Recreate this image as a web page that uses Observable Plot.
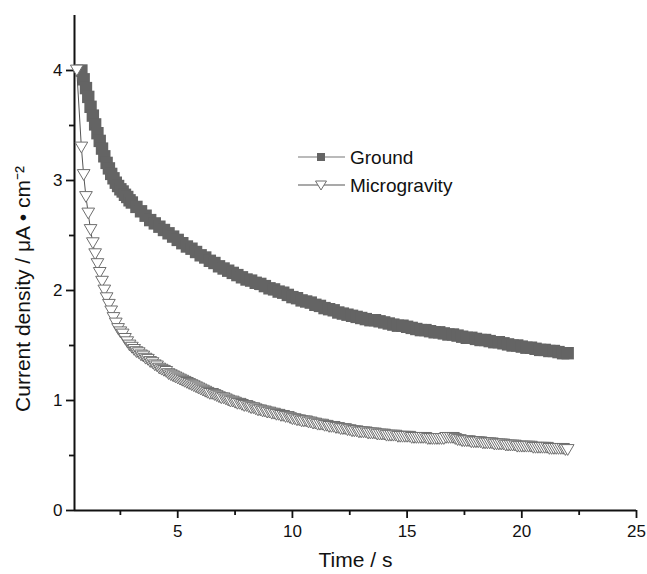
<!DOCTYPE html>
<html><head><meta charset="utf-8">
<script src="https://cdn.jsdelivr.net/npm/d3@7"></script>
<script src="https://cdn.jsdelivr.net/npm/@observablehq/plot@0.6"></script>
<style>
html,body{margin:0;padding:0;background:#fff;}
#wrap{position:relative;width:647px;height:574px;font-family:"Liberation Sans",Arial,sans-serif;}
#wrap svg.legend{position:absolute;left:0;top:0;pointer-events:none;}
</style></head><body><div id="wrap"></div>
<script>
// ---- data ----
const groundTime = [0.8,0.9,1.0,1.1,1.2,1.3,1.4,1.5,1.6,1.7,
  1.8,1.9,2.0,2.1,2.2,2.3,2.4,2.5,2.6,2.7,
  2.8,2.9,3.0,
  3.2,3.4,3.6,3.8,4.0,4.2,4.4,4.6,4.8,5.0,
  5.2,5.4,5.6,5.8,6.0,6.2,6.4,6.6,6.8,7.0,
  7.2,7.4,7.6,7.8,8.0,8.2,8.4,8.6,8.8,9.0,
  9.2,9.4,9.6,9.8,10.0,10.2,10.4,10.6,10.8,11.0,
  11.2,11.4,11.6,11.8,12.0,12.2,12.4,12.6,12.8,13.0,
  13.2,13.4,13.6,13.8,14.0,14.2,14.4,14.6,14.8,15.0,
  15.2,15.4,15.6,15.8,16.0,16.2,16.4,16.6,16.8,17.0,
  17.2,17.4,17.6,17.8,18.0,18.2,18.4,18.6,18.8,19.0,
  19.2,19.4,19.6,19.8,20.0,20.2,20.4,20.6,20.8,21.0,
  21.2,21.4,21.6,21.8,22.0];
const groundCurrent = [4.00,3.92,3.84,3.76,3.67,3.59,3.51,3.43,3.36,3.29,
  3.22,3.16,3.11,3.06,3.02,2.98,2.95,2.92,2.90,2.87,
  2.85,2.82,2.80,
  2.76,2.72,2.68,2.64,2.61,2.58,2.55,2.52,2.49,2.46,
  2.43,2.40,2.38,2.35,2.32,2.30,2.27,2.25,2.22,2.20,
  2.18,2.16,2.14,2.12,2.10,2.09,2.07,2.06,2.04,2.02,
  2.01,1.99,1.98,1.96,1.94,1.93,1.91,1.90,1.89,1.87,
  1.86,1.84,1.83,1.82,1.80,1.79,1.78,1.77,1.76,1.75,
  1.74,1.73,1.73,1.72,1.71,1.70,1.69,1.68,1.68,1.67,
  1.66,1.65,1.64,1.64,1.63,1.62,1.62,1.61,1.60,1.60,
  1.59,1.58,1.57,1.57,1.56,1.55,1.55,1.54,1.53,1.53,
  1.52,1.51,1.50,1.50,1.49,1.48,1.48,1.47,1.46,1.46,
  1.45,1.45,1.44,1.43,1.43];
const microTime = [0.6,
  0.8,0.9,1.0,1.1,1.2,1.3,1.4,1.5,1.6,1.7,
  1.8,1.9,2.0,2.1,2.2,2.3,2.4,2.5,2.6,2.7,
  2.8,2.9,3.0,3.1,3.2,3.3,3.4,3.5,3.6,3.7,
  3.8,3.9,4.0,4.1,4.2,4.3,4.4,4.5,4.6,4.7,
  4.8,4.9,5.0,5.1,5.2,5.3,5.4,5.5,5.6,5.7,
  5.8,5.9,6.0,6.1,6.2,6.3,6.4,6.5,6.6,6.7,
  6.8,6.9,7.0,7.1,7.2,7.3,7.4,7.5,7.6,7.7,
  7.8,7.9,8.0,8.1,8.2,8.3,8.4,8.5,8.6,8.7,
  8.8,8.9,9.0,9.1,9.2,9.3,9.4,9.5,9.6,9.7,
  9.8,9.9,10.0,10.1,10.2,10.3,10.4,10.5,10.6,10.7,
  10.8,10.9,11.0,11.1,11.2,11.3,11.4,11.5,11.6,11.7,
  11.8,11.9,12.0,12.1,12.2,12.3,12.4,12.5,12.6,12.7,
  12.8,12.9,13.0,13.1,13.2,13.3,13.4,13.5,13.6,13.7,
  13.8,13.9,14.0,14.1,14.2,14.3,14.4,14.5,14.6,14.7,
  14.8,14.9,15.0,15.1,15.2,15.3,15.4,15.5,15.6,15.7,
  15.8,15.9,16.0,16.1,16.2,16.3,16.4,16.5,16.6,16.7,
  16.8,16.9,17.0,17.1,17.2,17.3,17.4,17.5,17.6,17.7,
  17.8,17.9,18.0,18.1,18.2,18.3,18.4,18.5,18.6,18.7,
  18.8,18.9,19.0,19.1,19.2,19.3,19.4,19.5,19.6,19.7,
  19.8,19.9,20.0,20.1,20.2,20.3,20.4,20.5,20.6,20.7,
  20.8,20.9,21.0,21.1,21.2,21.3,21.4,21.5,21.6,21.7,
  21.8,21.9,22.0];
const microCurrent = [4.00,
  3.30,3.05,2.85,2.70,2.55,2.43,2.33,2.24,2.16,2.08,
  2.00,1.93,1.87,1.81,1.75,1.70,1.65,1.62,1.60,1.56,
  1.53,1.50,1.48,1.46,1.44,1.43,1.41,1.40,1.38,1.37,
  1.35,1.34,1.32,1.31,1.29,1.28,1.27,1.26,1.24,1.23,
  1.22,1.21,1.20,1.19,1.18,1.17,1.16,1.15,1.14,1.13,
  1.12,1.11,1.10,1.09,1.08,1.07,1.06,1.06,1.05,1.04,
  1.03,1.02,1.02,1.01,1.00,0.99,0.99,0.98,0.97,0.97,
  0.96,0.95,0.95,0.94,0.93,0.93,0.92,0.91,0.91,0.90,
  0.90,0.89,0.89,0.88,0.88,0.87,0.87,0.86,0.86,0.85,
  0.85,0.84,0.83,0.83,0.82,0.82,0.81,0.81,0.81,0.80,
  0.80,0.79,0.79,0.78,0.78,0.78,0.77,0.77,0.76,0.76,
  0.76,0.75,0.75,0.74,0.74,0.74,0.73,0.73,0.72,0.72,
  0.72,0.71,0.71,0.71,0.71,0.70,0.70,0.70,0.70,0.69,
  0.69,0.69,0.69,0.68,0.68,0.68,0.68,0.68,0.67,0.67,
  0.67,0.67,0.67,0.67,0.66,0.66,0.66,0.66,0.66,0.66,
  0.66,0.65,0.65,0.65,0.65,0.65,0.65,0.65,0.65,0.66,
  0.66,0.66,0.66,0.65,0.64,0.64,0.63,0.63,0.63,0.63,
  0.62,0.62,0.62,0.62,0.62,0.61,0.61,0.61,0.61,0.61,
  0.60,0.60,0.60,0.60,0.60,0.59,0.59,0.59,0.59,0.59,
  0.58,0.58,0.58,0.58,0.58,0.58,0.58,0.57,0.57,0.57,
  0.57,0.57,0.57,0.57,0.56,0.56,0.56,0.56,0.56,0.56,
  0.56,0.55,0.55];
const seriesNames = ["Ground", "Microgravity"];
const xTicks = [5, 10, 15, 20, 25];
const xMinorTicks = [2.5, 7.5, 12.5, 17.5, 22.5];
const yTicks = [0, 1, 2, 3, 4];
const yMinorTicks = [0.5, 1.5, 2.5, 3.5];
const xLabel = "Time / s";
const yLabel = "Current density / \u03BCA \u2022 cm\u207B\u00B2";

// ---- build ----
const ground = groundTime.map((t, i) => ({t, v: groundCurrent[i]}));
const micro = microTime.map((t, i) => ({t, v: microCurrent[i]}));

const groundColor = "#646464";
const microStroke = "#6e6e6e";
const microLine = "#555555";
const FONT = "'Liberation Sans', Arial, sans-serif";

const triDown = {
  draw(ctx, size) {
    const r = Math.sqrt(size / Math.PI);
    const w = r * 1.35, h = r * 1.15;
    ctx.moveTo(-w, -h); ctx.lineTo(w, -h); ctx.lineTo(0, h); ctx.closePath();
  }
};

const chart = Plot.plot({
  width: 647, height: 574,
  marginLeft: 74, marginRight: 11, marginTop: 15, marginBottom: 64,
  x: {domain: [0.5, 25]},
  y: {domain: [0, 4.5]},
  style: {fontFamily: FONT, background: "white", color: "#111", overflow: "visible"},
  marks: [
    Plot.axisX({ticks: xMinorTicks, tickSize: 5, tickFormat: () => "", strokeWidth: 1.8, label: null}),
    Plot.axisX({ticks: xTicks, tickSize: 8, tickPadding: 6, fontSize: 17, strokeWidth: 1.8, tickFormat: d => String(d), label: null}),
    Plot.axisY({ticks: yMinorTicks, tickSize: 5, tickFormat: () => "", strokeWidth: 1.8, label: null}),
    Plot.axisY({ticks: yTicks, tickSize: 8, tickPadding: 4, fontSize: 17, strokeWidth: 1.8, tickFormat: d => String(d), label: null}),
    Plot.ruleX([0.5], {stroke: "#111", strokeWidth: 2}),
    Plot.ruleY([0], {stroke: "#111", strokeWidth: 2}),
    Plot.text([xLabel], {text: d => d, frameAnchor: "bottom", dy: 50, lineAnchor: "middle", fontSize: 21, fill: "#111"}),
    Plot.text([yLabel], {text: d => d, frameAnchor: "left", rotate: -90, dx: -51, dy: 26, lineAnchor: "middle", textAnchor: "middle", fontSize: 21, fill: "#111"}),
    Plot.line(ground, {x: "t", y: "v", stroke: groundColor, strokeWidth: 1}),
    Plot.dot(ground, {x: "t", y: "v", symbol: "square", r: 7, fill: groundColor, stroke: "none"}),
    Plot.line(micro, {x: "t", y: "v", stroke: microLine, strokeWidth: 1}),
    Plot.dot(micro, {x: "t", y: "v", symbol: triDown, r: 4.7, fill: "white", stroke: microStroke, strokeWidth: 1})
  ]
});

const wrap = document.getElementById("wrap");
wrap.appendChild(chart);

// ---- legend ----
const leg = d3.select(wrap).append("svg").attr("class", "legend")
  .attr("width", 647).attr("height", 574);
const rows = [
  {name: seriesNames[0], y: 157, kind: "square"},
  {name: seriesNames[1], y: 185, kind: "tri"}
];
rows.forEach(r => {
  const g = leg.append("g");
  g.append("line").attr("x1", 298).attr("x2", 345).attr("y1", r.y).attr("y2", r.y)
    .attr("stroke", r.kind === "square" ? "#777" : microLine).attr("stroke-width", 1.2);
  if (r.kind === "square") {
    g.append("rect").attr("x", 317).attr("y", r.y - 4).attr("width", 8).attr("height", 8).attr("fill", groundColor);
  } else {
    g.append("path").attr("d", `M${315.5},${r.y - 4} L${326.5},${r.y - 4} L${321},${r.y + 5} Z`)
      .attr("fill", "white").attr("stroke", microStroke).attr("stroke-width", 1);
  }
  g.append("text").attr("x", 350).attr("y", r.y).attr("dy", "0.35em")
    .attr("font-family", FONT).attr("font-size", 19).attr("fill", "#111").text(r.name);
});
</script>
</body></html>
